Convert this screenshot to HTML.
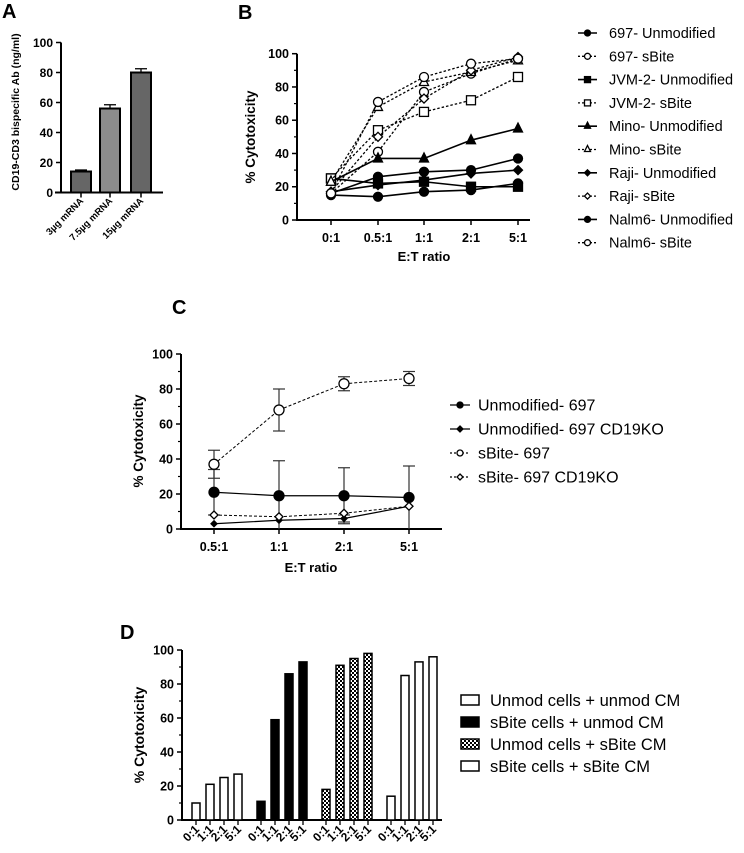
<!DOCTYPE html>
<html><head><meta charset="utf-8"><style>
html,body{margin:0;padding:0;background:#fff;}
svg{display:block;font-family:"Liberation Sans",Arial,sans-serif;}
.tk{font-size:12.5px;font-weight:bold;}
.lg{font-size:14.5px;}
.pl{font-size:20px;font-weight:bold;}
</style></head><body>
<svg id="fig" width="744" height="853" viewBox="0 0 744 853">
<defs>
<pattern id="chk" width="4" height="4" patternUnits="userSpaceOnUse">
<rect width="4" height="4" fill="#fff"/><rect width="2" height="2" fill="#000"/><rect x="2" y="2" width="2" height="2" fill="#000"/>
</pattern>
</defs>
<g id="A"></g>
<g id="B"></g>
<g id="C"></g>
<g id="D"></g>
</svg>
<script>
// ---- Panel A data
const aCats=["3µg mRNA","7.5µg mRNA","15µg mRNA"];
const aVals=[14,56,80];
const aErr=[1,2.5,2.5];
const aTicks=[0,20,40,60,80,100];
// ---- Panel B data
const bCats=["0:1","0.5:1","1:1","2:1","5:1"];
const bNames=["697- Unmodified","697- sBite","JVM-2- Unmodified","JVM-2- sBite","Mino- Unmodified","Mino- sBite","Raji- Unmodified","Raji- sBite","Nalm6- Unmodified","Nalm6- sBite"];
const b697U=[15,14,17,18,22];
const b697S=[16,41,77,88,97];
const bJvmU=[25,22,23,20,20];
const bJvmS=[25,54,65,72,86];
const bMinoU=[23,37,37,48,55];
const bMinoS=[23,68,83,89,96];
const bRajiU=[17,21,24,28,30];
const bRajiS=[17,50,73,90,98];
const bNalmU=[16,26,29,30,37];
const bNalmS=[16,71,86,94,97];
const bTicks=[0,20,40,60,80,100];
// ---- Panel C data
const cCats=["0.5:1","1:1","2:1","5:1"];
const cNames=["Unmodified- 697","Unmodified- 697 CD19KO","sBite- 697","sBite- 697 CD19KO"];
const cUnmod=[21,19,19,18];
const cUnmodErr=[13,20,16,18];
const cUnmodKO=[3,5,6,13];
const cUnmodKOErr=[0,0,2,0];
const cSbite=[37,68,83,86];
const cSbiteErr=[8,12,4,4];
const cSbiteKO=[8,7,9,13];
const cSbiteKOErr=[0,0,0,0];
const cTicks=[0,20,40,60,80,100];
// ---- Panel D data
const dCats=["0:1","1:1","2:1","5:1"];
const dNames=["Unmod cells + unmod CM","sBite cells + unmod CM","Unmod cells + sBite CM","sBite cells + sBite CM"];
const dG1=[10,21,25,27];
const dG2=[11,59,86,93];
const dG3=[18,91,95,98];
const dG4=[14,85,93,96];
const dTicks=[0,20,40,60,80,100];

const NS="http://www.w3.org/2000/svg";
function mk(parent,tag,attrs,text){const e=document.createElementNS(NS,tag);for(const k in attrs)e.setAttribute(k,attrs[k]);if(text!==undefined)e.textContent=text;parent.appendChild(e);return e;}
function lin(d0,d1,r0,r1){return v=>r0+(v-d0)/(d1-d0)*(r1-r0);}

function yAxis(g,x,y,ticks,minor,fs){
  const ax=mk(g,'line',{x1:x,x2:x,y1:y(100),y2:y(0),stroke:'#000','stroke-width':2});
  
  
  ticks.forEach(t=>{
    mk(g,'line',{x1:x-5,x2:x,y1:y(t),y2:y(t),stroke:'#000','stroke-width':1.5});
    if(minor && t<100) mk(g,'line',{x1:x-3,x2:x,y1:y(t+10),y2:y(t+10),stroke:'#000','stroke-width':1.2});
    const l=mk(g,'text',{x:x-8,y:y(t)+4.5,'text-anchor':'end',class:'tk',style:fs?('font-size:'+fs+'px'):''},t);
    
    
  });
}
function marker(g,type,x,y,fill,r){
  r=r||4.5;let e;
  if(type==='circle') e=mk(g,'circle',{cx:x,cy:y,r:r});
  else if(type==='square') e=mk(g,'rect',{x:x-r,y:y-r,width:2*r,height:2*r});
  else if(type==='triangle') e=mk(g,'polygon',{points:`${x},${y-r-1} ${x+r},${y+r-1} ${x-r},${y+r-1}`});
  else e=mk(g,'polygon',{points:`${x},${y-r} ${x+r},${y} ${x},${y+r} ${x-r},${y}`});
  e.setAttribute('fill',fill?'#000':'#fff');e.setAttribute('stroke','#000');e.setAttribute('stroke-width',1.3);
  
  
  return e;
}

// ===== Panel A
(function(){
  const g=document.getElementById('A');
  mk(g,'text',{x:2,y:18,class:'pl'},'A');
  const y=lin(0,100,192.5,42.5);
  yAxis(g,61,y,aTicks,false,12);
  const xs=[81,110,141];
  mk(g,'line',{x1:55,x2:163,y1:y(0),y2:y(0),stroke:'#000','stroke-width':2});
  const fills=['#666','#8c8c8c','#666'];
  aVals.forEach((v,i)=>{
    const b=mk(g,'rect',{x:xs[i]-10,y:y(v),width:20,height:y(0)-y(v),fill:fills[i],stroke:'#000','stroke-width':2});
    
    
    mk(g,'line',{x1:xs[i],x2:xs[i],y1:y(v),y2:y(v+aErr[i]),stroke:'#000','stroke-width':1.3});
    mk(g,'line',{x1:xs[i]-6,x2:xs[i]+6,y1:y(v+aErr[i]),y2:y(v+aErr[i]),stroke:'#000','stroke-width':1.3});
    mk(g,'line',{x1:xs[i],x2:xs[i],y1:y(0),y2:y(0)+5,stroke:'#000','stroke-width':1.5});
    const t=mk(g,'text',{x:xs[i]+3,y:y(0)+9,'text-anchor':'end',class:'tk',style:'font-size:9.5px',transform:`rotate(-45 ${xs[i]+3} ${y(0)+9})`},aCats[i]);
    
    
  });
  const yt=mk(g,'text',{x:0,y:0,'text-anchor':'middle',class:'tk',style:'font-size:10.5px',transform:'translate(19 112) rotate(-90)'},'CD19-CD3 bispecific Ab (ng/ml)');
  
  
})();

// ===== Panel B
(function(){
  const g=document.getElementById('B');
  mk(g,'text',{x:238,y:19,class:'pl'},'B');
  const y=lin(0,100,220,53.7);
  const xs=[331,378,424,471,518];
  yAxis(g,297,y,bTicks,true);
  mk(g,'line',{x1:296,x2:530,y1:y(0),y2:y(0),stroke:'#000','stroke-width':2});
  bCats.forEach((c,i)=>{
    mk(g,'line',{x1:xs[i],x2:xs[i],y1:y(0),y2:y(0)+5,stroke:'#000','stroke-width':1.5});
    const t=mk(g,'text',{x:xs[i],y:y(0)+22,'text-anchor':'middle',class:'tk'},c);
    
    
  });
  const xt=mk(g,'text',{x:424,y:261,'text-anchor':'middle',class:'tk',style:'font-size:13px'},'E:T ratio');
  
  
  const yt=mk(g,'text',{x:0,y:0,'text-anchor':'middle',class:'tk',style:'font-size:13.5px',transform:'translate(255 137) rotate(-90)'},'% Cytotoxicity');
  
  
  const series=[b697U,b697S,bJvmU,bJvmS,bMinoU,bMinoS,bRajiU,bRajiS,bNalmU,bNalmS];
  const types=['circle','circle','square','square','triangle','triangle','diamond','diamond','circle','circle'];
  series.forEach((s,k)=>{
    const filled=k%2===0;
    const sg=mk(g,'g',{});
    
    
    mk(sg,'polyline',{points:s.map((v,i)=>xs[i]+','+y(v)).join(' '),fill:'none',stroke:'#000','stroke-width':filled?1.6:1.3,'stroke-dasharray':filled?'':'2.5,2'});
    s.forEach((v,i)=>marker(sg,types[k],xs[i],y(v),filled,4.5));
    const ly=33+k*23.3;
    const lg=mk(g,'g',{});
    
    
    mk(lg,'line',{x1:578,x2:597,y1:ly,y2:ly,stroke:'#000','stroke-width':filled?1.6:1.3,'stroke-dasharray':filled?'':'2,2'});
    marker(lg,types[k],587.5,ly,filled,3);
    mk(lg,'text',{x:609,y:ly+5,class:'lg'},bNames[k]);
  });
})();

// ===== Panel C
(function(){
  const g=document.getElementById('C');
  mk(g,'text',{x:172,y:314,class:'pl'},'C');
  const y=lin(0,100,529,354);
  const xs=[214,279,344,409];
  yAxis(g,181,y,cTicks,true);
  mk(g,'line',{x1:180,x2:442,y1:y(0),y2:y(0),stroke:'#000','stroke-width':2});
  cCats.forEach((c,i)=>{
    mk(g,'line',{x1:xs[i],x2:xs[i],y1:y(0),y2:y(0)+5,stroke:'#000','stroke-width':1.5});
    const t=mk(g,'text',{x:xs[i],y:y(0)+22,'text-anchor':'middle',class:'tk'},c);
    
    
  });
  const xt=mk(g,'text',{x:311,y:572,'text-anchor':'middle',class:'tk',style:'font-size:13px'},'E:T ratio');
  
  
  const yt=mk(g,'text',{x:0,y:0,'text-anchor':'middle',class:'tk',style:'font-size:13.5px',transform:'translate(143 441) rotate(-90)'},'% Cytotoxicity');
  
  
  const series=[cUnmod,cUnmodKO,cSbite,cSbiteKO];
  const errs=[cUnmodErr,cUnmodKOErr,cSbiteErr,cSbiteKOErr];
  const types=['circle','diamond','circle','diamond'];
  series.forEach((s,k)=>{
    const filled=k<2;
    const sg=mk(g,'g',{});
    
    
    s.forEach((v,i)=>{const e=errs[k][i];if(e>0){
      const x=xs[i];mk(sg,'line',{x1:x,x2:x,y1:y(Math.max(0,v-e)),y2:y(v+e),stroke:'#333','stroke-width':1.2});
      mk(sg,'line',{x1:x-6,x2:x+6,y1:y(v+e),y2:y(v+e),stroke:'#333','stroke-width':1.2});
      if(v-e>0)mk(sg,'line',{x1:x-6,x2:x+6,y1:y(v-e),y2:y(v-e),stroke:'#333','stroke-width':1.2});}});
    mk(sg,'polyline',{points:s.map((v,i)=>xs[i]+','+y(v)).join(' '),fill:'none',stroke:'#000','stroke-width':filled?1.2:1,'stroke-dasharray':filled?'':'3,2'});
    s.forEach((v,i)=>marker(sg,types[k],xs[i],y(v),filled,k===1?3:(k===3?4:5)));
    const ly=405+k*24;
    const lg=mk(g,'g',{});
    
    
    mk(lg,'line',{x1:450,x2:470,y1:ly,y2:ly,stroke:'#000','stroke-width':1.3,'stroke-dasharray':filled?'':'2,2'});
    marker(lg,types[k],460,ly,filled,3);
    mk(lg,'text',{x:478,y:ly+5.5,class:'lg',style:'font-size:16px'},cNames[k]);
  });
})();

// ===== Panel D
(function(){
  const g=document.getElementById('D');
  mk(g,'text',{x:120,y:639,class:'pl'},'D');
  const y=lin(0,100,820,650);
  yAxis(g,182,y,dTicks,true);
  mk(g,'line',{x1:181,x2:442,y1:y(0),y2:y(0),stroke:'#000','stroke-width':2});
  const starts=[196,261,326,391];
  const fills=['#fff','#000','url(#chk)','#fff'];
  [dG1,dG2,dG3,dG4].forEach((grp,k)=>{
    grp.forEach((v,i)=>{
      const x=starts[k]+i*14;
      const b=mk(g,'rect',{x:x-4,y:y(v),width:8,height:y(0)-y(v),fill:fills[k],stroke:'#000','stroke-width':1.5});
      
      
      mk(g,'line',{x1:x,x2:x,y1:y(0),y2:y(0)+5,stroke:'#000','stroke-width':1.3});
      const t=mk(g,'text',{x:x+4,y:y(0)+10,'text-anchor':'end',class:'tk',style:'font-size:12px',transform:`rotate(-45 ${x+4} ${y(0)+10})`},dCats[i]);
      
      
    });
    const ly=700+k*22;
    const lg=mk(g,'g',{});
    
    
    mk(lg,'rect',{x:461,y:ly-5,width:18,height:10,fill:fills[k],stroke:'#000','stroke-width':1.5});
    mk(lg,'text',{x:490,y:ly+6,class:'lg',style:'font-size:16.5px'},dNames[k]);
  });
  const yt=mk(g,'text',{x:0,y:0,'text-anchor':'middle',class:'tk',style:'font-size:14px',transform:'translate(144 735) rotate(-90)'},'% Cytotoxicity');
  
  
})();
</script>
</body></html>
